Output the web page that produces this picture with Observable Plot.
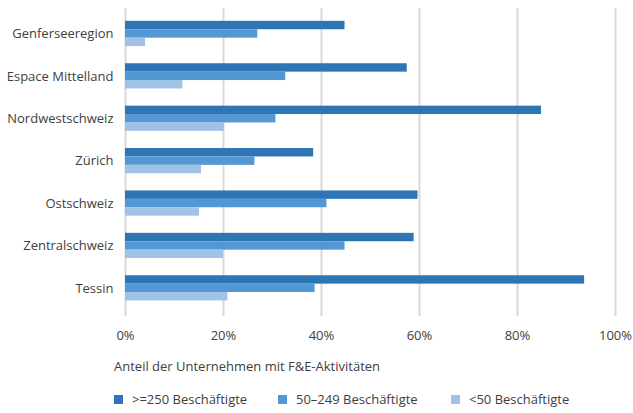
<!DOCTYPE html>
<html>
<head>
<meta charset="utf-8">
<script src="https://cdn.jsdelivr.net/npm/d3@7"></script>
<script src="https://cdn.jsdelivr.net/npm/@observablehq/plot@0.6"></script>
<style>
  html, body { margin: 0; padding: 0; background: #fff; }
  body { width: 633px; height: 413px; position: relative; overflow: hidden;
         font-family: "Open Sans", "Noto Sans", sans-serif; color: #404040; }
  #chart svg { display: block; }
  #xtitle { position: absolute; left: 114px; top: 357px; font-size: 13px; line-height: 18px; }
  .lg { position: absolute; top: 390px; font-size: 13px; line-height: 18px; white-space: nowrap; }
  .lg span.sw { position: absolute; left: 0; top: 5px; width: 9px; height: 9px; }
  .lg span.tx { position: absolute; left: 18px; top: 0; }
</style>
</head>
<body>
<div id="chart"></div>
<div id="xtitle"></div>
<div id="legend"></div>
<script>
const regions = ["Genferseeregion", "Espace Mittelland", "Nordwestschweiz", "Zürich", "Ostschweiz", "Zentralschweiz", "Tessin"];
const seriesNames = [">=250 Beschäftigte", "50–249 Beschäftigte", "<50 Beschäftigte"];
const seriesColors = ["#2e75b6", "#5397d3", "#9fc2e6"];
const large = [44.8, 57.5, 84.9, 38.4, 59.7, 58.9, 93.7];
const medium = [27.0, 32.7, 30.7, 26.4, 41.1, 44.8, 38.7];
const small = [4.1, 11.7, 20.2, 15.5, 15.1, 20.0, 20.9];
const xTicks = [0, 20, 40, 60, 80, 100];
const xTitle = "Anteil der Unternehmen mit F&E-Aktivitäten";

const seriesValues = [large, medium, small];

// layout constants
const barH = 8.4;      // height of a single bar (px)
const step = 42.4;     // distance between region groups (px)
const frameH = 308;
const pInner = 1 - barH / step;
const pOuter = (frameH / step - (regions.length - pInner)) / 2;
const offsets = [-barH, 0, barH];

const chart = Plot.plot({
  width: 633,
  height: 348,
  marginLeft: 125,
  marginRight: 18,
  marginTop: 8,
  marginBottom: 32,
  style: {fontFamily: '"Open Sans", "Noto Sans", sans-serif', fontSize: "13px", color: "#404040", background: "#fff"},
  x: {domain: [0, 100], ticks: xTicks, tickFormat: d => d + "%", tickSize: 0, tickPadding: 14, label: null},
  y: {domain: regions, paddingInner: pInner, paddingOuter: pOuter, align: 0.47, round: false, tickSize: 0, tickPadding: 12, label: null},
  marks: [
    Plot.ruleX(xTicks, {x: d => d, stroke: "#d9d9d9", strokeWidth: 2}),
    ...seriesValues.map((vals, j) =>
      Plot.barX(regions, {y: d => d, x: (d, i) => vals[i], fill: seriesColors[j], dy: offsets[j]})
    )
  ]
});
document.getElementById("chart").appendChild(chart);

document.getElementById("xtitle").textContent = xTitle;
const lefts = [114, 278, 451];
const leg = document.getElementById("legend");
seriesNames.forEach((s, i) => {
  const d = document.createElement("div");
  d.className = "lg";
  d.style.left = lefts[i] + "px";
  const sw = document.createElement("span");
  sw.className = "sw";
  sw.style.background = seriesColors[i];
  const tx = document.createElement("span");
  tx.className = "tx";
  tx.textContent = s;
  d.appendChild(sw); d.appendChild(tx);
  leg.appendChild(d);
});
</script>
</body>
</html>
